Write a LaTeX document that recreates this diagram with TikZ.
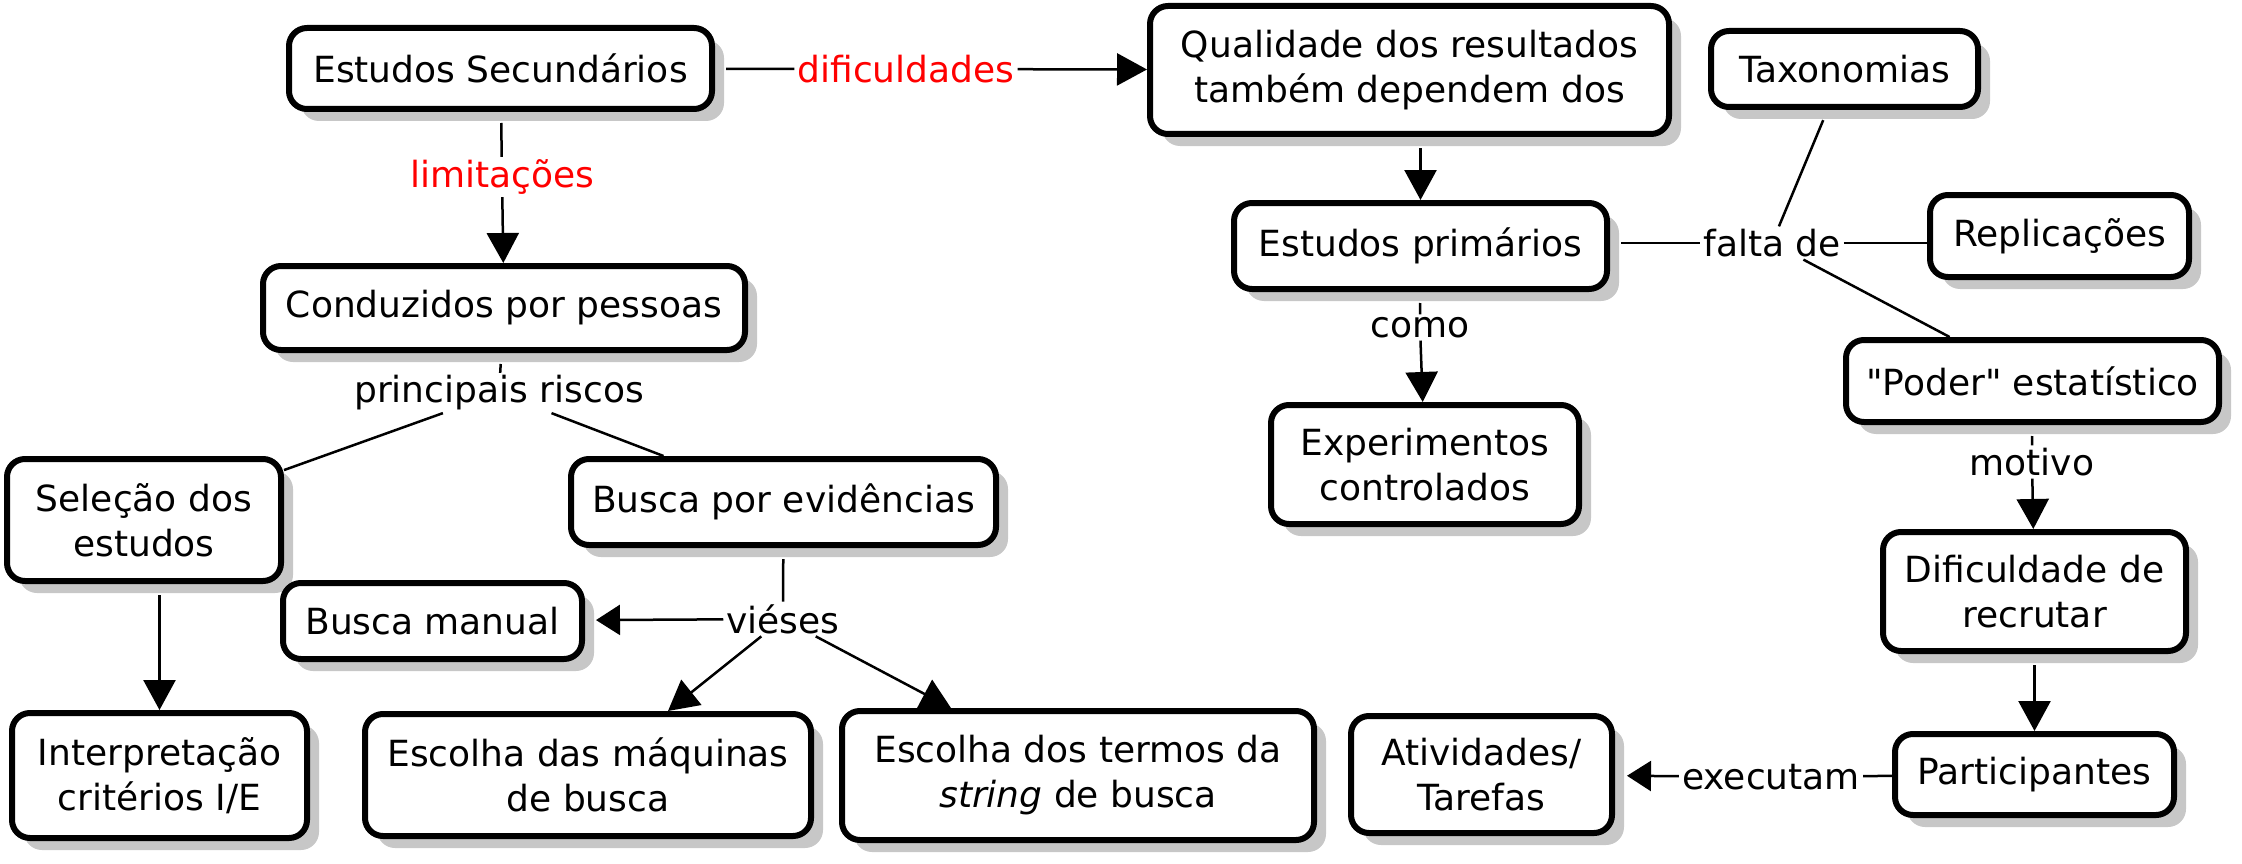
\documentclass[tikz,border=0pt]{standalone}
\usepackage{fontspec}
\setmainfont{DejaVu Sans}[Ligatures=TeXOff]
\usetikzlibrary{arrows.meta,shadows}
\begin{document}
\begin{tikzpicture}[x=1pt,y=-1pt,
  box/.style={draw, line width=6pt, rounded corners=18pt, fill=white, align=center,
    font=\fontsize{36}{45}\selectfont, inner sep=0pt,
    drop shadow={shadow xshift=12pt, shadow yshift=-12pt, fill=black!22, opacity=1}},
  lab/.style={font=\fontsize{36}{45}\selectfont, inner xsep=3pt, inner ysep=2.5pt},
  redlab/.style={lab, text=red},
  con/.style={line width=2.5pt},
  arr/.style={con, -{Triangle[length=30pt,width=32pt]}},
  sarr/.style={con, -{Triangle[length=24pt,width=30pt]}},
  src/.style={shorten <=11pt}]
\useasboundingbox (0,0) rectangle (2242,864);

% boxes
\node[box, minimum width=423pt, minimum height=81pt] (sec) at (500.5,68.5) {Estudos Secundários};
\node[box, minimum width=519pt, minimum height=128pt] (qual) at (1409.5,70) {Qualidade dos resultados\\também dependem dos};
\node[box, minimum width=267pt, minimum height=76pt] (tax) at (1844.5,69) {Taxonomias};
\node[box, minimum width=482pt, minimum height=84pt] (cond) at (504,308) {Conduzidos por pessoas};
\node[box, minimum width=373pt, minimum height=86pt] (prim) at (1420.5,246) {Estudos primários};
\node[box, minimum width=259pt, minimum height=82pt] (repl) at (2059.5,236) {Replicações};
\node[box, minimum width=373pt, minimum height=82pt] (poder) at (2032.5,381) {"Poder" estatístico};
\node[box, minimum width=308pt, minimum height=119pt] (exp) at (1425,464.5) {Experimentos\\controlados};
\node[box, minimum width=274pt, minimum height=122pt] (sel) at (144,520) {Seleção dos\\estudos};
\node[box, minimum width=425pt, minimum height=86pt] (busev) at (783.5,502) {Busca por evidências};
\node[box, minimum width=299pt, minimum height=76pt] (busman) at (432.5,621) {Busca manual};
\node[box, minimum width=295pt, minimum height=125pt] (interp) at (159.5,775.5) {Interpretação\\critérios I/E};
\node[box, minimum width=446pt, minimum height=122pt] (maq) at (588,775) {Escolha das máquinas\\de busca};
\node[box, minimum width=472pt, minimum height=129pt] (termos) at (1078,775.5) {Escolha dos termos da\\\textit{string} de busca};
\node[box, minimum width=261pt, minimum height=117pt] (ativ) at (1481.5,774.5) {Atividades/\\Tarefas};
\node[box, minimum width=279pt, minimum height=81pt] (part) at (2034.5,774.5) {Participantes};
\node[box, minimum width=303pt, minimum height=119pt] (dif) at (2034.5,591.5) {Dificuldade de\\recrutar};

% link labels
\node[redlab] (difl) at (906,69) {dificuldades};
\node[redlab] (liml) at (502,177) {limitações};
\node[lab] (prl) at (499,393) {principais riscos};
\node[lab] (comol) at (1420,327.5) {como};
\node[lab] (faltal) at (1772,243) {falta de};
\node[lab] (motl) at (2032,462) {motivo};
\node[lab] (viel) at (783,619) {viéses};
\node[lab] (exel) at (1771,777) {executam};

% connectors
\draw[con,src] (sec) -- (difl);
\draw[arr] (difl) -- (qual);
\draw[con,src] (sec) -- (liml);
\draw[arr] (liml) -- (cond);
\draw[arr,src] (prim.north |- qual.south) -- (prim.north);
\draw[con,src] (cond) -- (prl);
\draw[con] (prl) -- (sel);
\draw[con] (prl) -- (busev);
\draw[arr,src] (interp.north |- sel.south) -- (interp.north);
\draw[con,src] (busev) -- (viel);
\draw[sarr,shorten >=11pt] (viel) -- (busman);
\draw[arr] (viel) -- (maq);
\draw[arr] (viel) -- (termos);
\draw[con,src] (prim) -- (comol);
\draw[arr] (comol) -- (exp);
\draw[con,src] (faltal.west -| prim.east) -- (faltal.west);
\draw[con] (faltal.east) -- (faltal.east -| repl.west);
\draw[con,src] (tax) -- (faltal);
\draw[con] (faltal) -- (poder);
\draw[con,src] (poder) -- (motl);
\draw[arr] (motl) -- (dif);
\draw[arr,src] (dif) -- (part);
\draw[con] (part) -- (exel);
\draw[sarr,shorten >=12pt] (exel) -- (ativ);
\end{tikzpicture}
\end{document}
